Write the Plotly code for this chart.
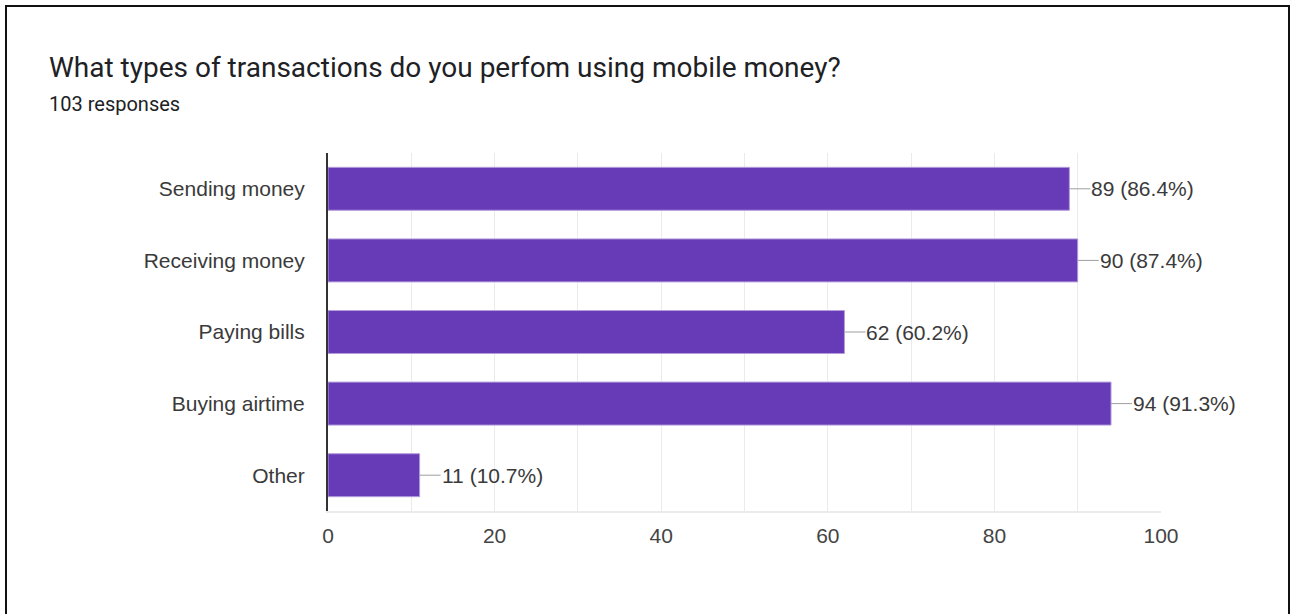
import plotly.graph_objects as go

# Survey results: transaction types performed with mobile money
categories = ["Sending money", "Receiving money", "Paying bills", "Buying airtime", "Other"]
counts = [89, 90, 62, 94, 11]
percents = [86.4, 87.4, 60.2, 91.3, 10.7]
total_responses = 103
x_ticks = [0, 20, 40, 60, 80, 100]

W, H = 1292, 614
L, R, T, B = 328, 131, 153, 103
pw, ph = W - L - R, H - T - B

LABEL_FONT = "Liberation Sans, Arial"


def px_x(p):
    return (p - L) / pw


def px_y(p):
    return (H - B - p) / ph


fig = go.Figure()
fig.add_trace(go.Bar(
    x=counts,
    y=categories,
    orientation="h",
    width=0.6,
    marker=dict(color="#673ab7", line=dict(color="#b39ddb", width=1)),
    hoverinfo="skip",
))

# value labels with short leader lines
for cat, n, pct in zip(categories, counts, percents):
    fig.add_annotation(
        x=n, y=cat, xref="x", yref="y",
        text=f"{n} ({pct}%)",
        showarrow=True, arrowhead=0, arrowwidth=1, arrowcolor="#9e9e9e",
        ax=21, ay=0, xanchor="left", yanchor="middle", borderpad=0,
        font=dict(family=LABEL_FONT, size=21, color="#3a3a3a"),
    )

# heading
fig.add_annotation(
    x=px_x(47), y=px_y(68), xref="paper", yref="paper",
    text="What types of transactions do you perfom using mobile money?",
    showarrow=False, xanchor="left", yanchor="middle",
    font=dict(family="Roboto", size=28, color="#202124"),
)
fig.add_annotation(
    x=px_x(47), y=px_y(104), xref="paper", yref="paper",
    text=f"{total_responses} responses",
    showarrow=False, xanchor="left", yanchor="middle",
    font=dict(family="Roboto", size=20, color="#202124"),
)

# card border
fig.add_shape(
    type="rect", xref="paper", yref="paper",
    x0=px_x(6), x1=px_x(1289), y0=px_y(640), y1=px_y(6),
    line=dict(color="#111111", width=2), fillcolor="rgba(0,0,0,0)", layer="above",
)

fig.update_xaxes(
    range=[0, 100], tickvals=x_ticks,
    showgrid=True, gridcolor="#ebebeb", gridwidth=1,
    minor=dict(dtick=10, showgrid=True, gridcolor="#ebebeb", gridwidth=1),
    showline=True, linecolor="#ebebeb", linewidth=2, mirror=False,
    zeroline=False, ticks="", ticklabelstandoff=5,
    tickfont=dict(family=LABEL_FONT, size=21, color="#444444"),
)
fig.update_yaxes(
    categoryorder="array", categoryarray=categories, autorange="reversed",
    range=[4.5, -0.5],
    showgrid=False, showline=True, linecolor="#333333", linewidth=2,
    ticks="", ticklabelstandoff=17,
    tickfont=dict(family=LABEL_FONT, size=21, color="#3a3a3a"),
)
fig.update_layout(
    width=W, height=H,
    margin=dict(l=L, r=R, t=T, b=B),
    paper_bgcolor="white", plot_bgcolor="white",
    showlegend=False, bargap=0.4,
)

fig.write_html("out.html")
